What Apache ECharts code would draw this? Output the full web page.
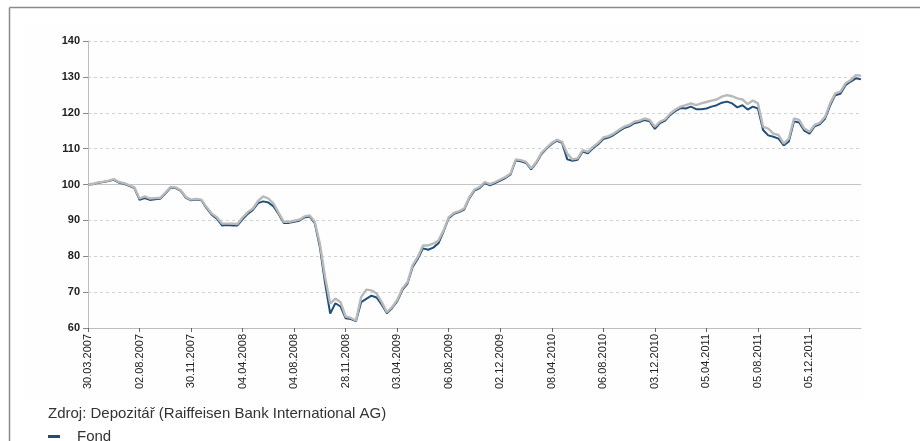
<!DOCTYPE html>
<html>
<head>
<meta charset="utf-8">
<script src="https://cdn.jsdelivr.net/npm/echarts@6/dist/echarts.min.js"></script>
<style>html,body{margin:0;padding:0;background:#fff;}#c{width:920px;height:441px;}</style>
</head>
<body>
<div id="c"></div>
<script>
// tick labels shown every 10 observations
const tickLabels = ['30.03.2007','02.08.2007','30.11.2007','04.04.2008','04.08.2008','28.11.2008','03.04.2009','06.08.2009','02.12.2009','08.04.2010','06.08.2010','03.12.2010','05.04.2011','05.08.2011','05.12.2011'];

const fund = [
  100.0,100.1,100.5,100.7,101.0,101.3,100.5,100.2,99.6,99.0,
  95.7,96.2,95.7,95.9,96.0,97.5,99.1,99.0,98.2,96.3,
  95.6,95.8,95.6,93.4,91.6,90.5,88.6,88.7,88.6,88.6,
  90.3,91.8,92.9,94.8,95.3,95.0,93.9,91.7,89.3,89.3,
  89.6,89.9,90.8,91.1,89.2,82.5,72.5,64.0,66.9,66.0,
  62.7,62.5,61.9,67.2,68.1,69.0,68.5,66.5,64.1,65.5,
  67.4,70.6,72.4,77.0,79.3,82.2,81.8,82.4,83.6,86.9,
  90.6,91.8,92.3,93.0,96.2,98.3,99.0,100.4,99.8,100.4,
  101.1,101.8,102.8,106.7,106.5,106.0,104.2,106.0,108.5,110.0,
  111.3,112.2,111.6,107.0,106.6,106.9,109.2,108.7,110.1,111.2,
  112.7,113.1,113.8,114.8,115.7,116.2,117.1,117.4,118.0,117.6,
  115.5,117.1,117.8,119.4,120.5,121.3,121.2,121.7,121.0,121.0,
  121.2,121.7,122.1,122.8,123.1,122.6,121.5,122.1,120.9,121.7,
  121.2,115.2,113.7,113.3,112.8,110.9,112.0,117.6,117.3,115.0,
  114.2,116.2,116.8,118.3,122.0,124.9,125.3,127.7,128.7,129.6,
  129.3
];

const benchmark = [
  100.0,100.2,100.6,100.8,101.1,101.5,100.7,100.4,99.8,99.2,
  96.1,96.7,96.1,96.2,96.3,97.7,99.3,99.2,98.4,96.5,
  95.8,96.0,95.8,93.7,91.9,90.9,89.1,89.1,89.1,89.0,
  90.8,92.3,93.3,95.4,96.7,96.1,94.7,92.1,89.6,89.6,
  89.9,90.2,91.1,91.4,89.6,83.5,74.2,66.8,68.2,67.2,
  63.2,62.8,62.1,68.6,70.7,70.5,69.6,67.2,64.4,65.8,
  67.8,71.0,72.8,77.5,79.8,83.0,83.0,83.5,84.4,87.2,
  90.9,92.1,92.6,93.3,96.5,98.6,99.3,100.7,100.1,100.7,
  101.4,102.1,103.1,107.0,106.8,106.3,104.5,106.3,108.8,110.3,
  111.6,112.5,111.9,108.6,107.0,107.3,109.6,109.1,110.5,111.6,
  113.1,113.5,114.2,115.2,116.1,116.6,117.5,117.8,118.4,118.0,
  116.1,117.5,118.2,119.8,120.9,121.7,122.1,122.6,122.1,122.6,
  123.0,123.4,123.7,124.5,124.9,124.6,124.0,123.7,122.4,123.4,
  122.6,116.1,115.6,114.2,113.8,111.4,112.8,118.4,118.0,115.6,
  114.7,116.6,117.2,118.8,122.6,125.4,125.9,128.2,129.1,130.5,
  130.3
];

const categories = fund.map((_, i) => String(i));
const step = 10;
const isTick = (i) => i % step === 0 && i / step < tickLabels.length;

const chart = echarts.init(document.getElementById('c'), null, {renderer: 'canvas'});
chart.setOption({
  animation: false,
  backgroundColor: '#ffffff',
  textStyle: {fontFamily: 'Liberation Sans, Arial, sans-serif'},
  graphic: [
    {type: 'rect', shape: {x: 25, y: 23, width: 838, height: 377}, style: {fill: '#fefefe'}, z: -10, silent: true},
    {type: 'line', shape: {x1: 9.5, y1: 7.5, x2: 920, y2: 7.5}, style: {stroke: '#8a8a8a', lineWidth: 1.5}, silent: true},
    {type: 'line', shape: {x1: 9.5, y1: 7.5, x2: 9.5, y2: 441}, style: {stroke: '#8a8a8a', lineWidth: 1.5}, silent: true},
    {type: 'text', left: 48, top: 406, style: {text: 'Zdroj: Depozitář (Raiffeisen Bank International AG)', fontSize: 15, fill: '#333333', fontFamily: 'Liberation Sans, Arial, sans-serif'}, silent: true}
  ],
  legend: {
    data: ['Fond'],
    left: 43, top: 424,
    orient: 'vertical',
    icon: 'rect', itemWidth: 12, itemHeight: 3,
    textStyle: {fontSize: 15, color: '#333333', padding: [0, 0, 0, 12]},
    selectedMode: false
  },
  grid: {left: 88, right: 59, top: 41, bottom: 113, containLabel: false},
  xAxis: {
    type: 'category',
    data: categories,
    boundaryGap: false,
    axisLine: {lineStyle: {color: '#bdbdbd', width: 1}},
    axisTick: {show: true, interval: (i) => isTick(i), length: 4, lineStyle: {color: '#666'}},
    axisLabel: {
      interval: (i) => isTick(i),
      formatter: (v, i) => isTick(i) ? tickLabels[i / step] : '',
      rotate: 90, margin: 6, fontSize: 11, color: '#222222'
    },
    splitLine: {show: false}
  },
  yAxis: {
    type: 'value', min: 60, max: 140, interval: 10,
    axisLine: {show: true, lineStyle: {color: '#bdbdbd'}},
    axisTick: {show: true, length: 5, lineStyle: {color: '#888'}},
    axisLabel: {fontSize: 11, fontWeight: 'bold', color: '#222222', margin: 8},
    splitLine: {show: true, lineStyle: {color: '#d2d2d2', type: [3, 3], width: 1}}
  },
  series: [
    {
      name: 'Fond', type: 'line', data: fund, showSymbol: false, symbol: 'none',
      lineStyle: {color: '#1f4e7a', width: 2}, itemStyle: {color: '#1f4e7a'},
      markLine: {silent: true, symbol: 'none', label: {show: false},
        lineStyle: {color: '#c4c4c4', type: 'solid', width: 1},
        data: [{yAxis: 100}], z: 1},
      z: 3
    },
    {
      name: 'Benchmark', type: 'line', data: benchmark, showSymbol: false, symbol: 'none',
      lineStyle: {color: '#b9b9b9', width: 2.4}, itemStyle: {color: '#b9b9b9'},
      z: 4
    }
  ]
});
</script>
</body>
</html>
